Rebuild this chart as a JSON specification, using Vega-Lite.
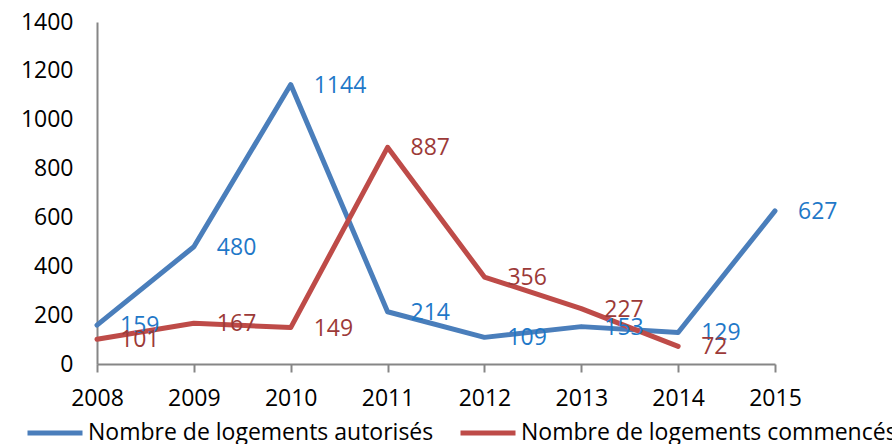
{
  "$schema": "https://vega.github.io/schema/vega-lite/v6.json",
  "width": 678,
  "height": 342,
  "autosize": "none",
  "padding": {"left": 97, "top": 22, "right": 117, "bottom": 80},
  "background": "white",
  "config": {
    "view": {"stroke": null},
    "font": "Open Sans"
  },
  "data": {
    "values": [
      {"year": 2008, "series": "Nombre de logements autorisés", "value": 159},
      {"year": 2009, "series": "Nombre de logements autorisés", "value": 480},
      {"year": 2010, "series": "Nombre de logements autorisés", "value": 1144},
      {"year": 2011, "series": "Nombre de logements autorisés", "value": 214},
      {"year": 2012, "series": "Nombre de logements autorisés", "value": 109},
      {"year": 2013, "series": "Nombre de logements autorisés", "value": 153},
      {"year": 2014, "series": "Nombre de logements autorisés", "value": 129},
      {"year": 2015, "series": "Nombre de logements autorisés", "value": 627},
      {"year": 2008, "series": "Nombre de logements commencés", "value": 101},
      {"year": 2009, "series": "Nombre de logements commencés", "value": 167},
      {"year": 2010, "series": "Nombre de logements commencés", "value": 149},
      {"year": 2011, "series": "Nombre de logements commencés", "value": 887},
      {"year": 2012, "series": "Nombre de logements commencés", "value": 356},
      {"year": 2013, "series": "Nombre de logements commencés", "value": 227},
      {"year": 2014, "series": "Nombre de logements commencés", "value": 72}
    ]
  },
  "encoding": {
    "x": {
      "field": "year", "type": "quantitative",
      "scale": {"domain": [2008, 2015], "nice": false, "zero": false},
      "axis": {
        "title": null, "grid": false, "values": [2008, 2009, 2010, 2011, 2012, 2013, 2014, 2015],
        "format": "d", "domainColor": "#868686", "domainWidth": 2, "tickColor": "#868686", "tickWidth": 2,
        "tickSize": 8, "labelFontSize": 23, "labelColor": "#000000", "labelPadding": 15,
        "labelFont": "Open Sans", "labelFlush": false, "labelOverlap": false
      }
    },
    "y": {
      "field": "value", "type": "quantitative",
      "scale": {"domain": [0, 1400], "nice": false},
      "axis": {
        "title": null, "grid": false, "values": [0, 200, 400, 600, 800, 1000, 1200, 1400], "format": "d",
        "ticks": false, "domainColor": "#868686", "domainWidth": 2, "labelFontSize": 23,
        "labelColor": "#000000", "labelPadding": 24, "labelFont": "Open Sans", "labelFlush": false, "labelOverlap": false
      }
    }
  },
  "layer": [
    {
      "mark": {"type": "line", "strokeWidth": 5, "strokeCap": "round", "strokeJoin": "round"},
      "encoding": {
        "color": {
          "field": "series", "type": "nominal",
          "scale": {"domain": ["Nombre de logements autorisés", "Nombre de logements commencés"], "range": ["#4A7EBB", "#BE4B48"]},
          "legend": {
            "title": null, "orient": "none", "direction": "horizontal", "columns": 2,
            "legendX": -72, "legendY": 381, "symbolType": "stroke", "symbolSize": 3025,
            "symbolStrokeWidth": 5, "labelFontSize": 23, "labelFont": "Open Sans", "labelColor": "#000000",
            "labelOffset": 3, "columnPadding": 16, "labelLimit": 600
          }
        }
      }
    },
    {
      "mark": {"type": "text", "align": "left", "baseline": "middle", "dx": 23, "dy": 1, "fontSize": 23, "font": "Open Sans"},
      "encoding": {
        "text": {"field": "value", "type": "quantitative"},
        "color": {
          "field": "series", "type": "nominal",
          "scale": {"domain": ["Nombre de logements autorisés", "Nombre de logements commencés"], "range": ["#1F78C8", "#9C3A38"]},
          "legend": null
        }
      }
    }
  ],
  "resolve": {"scale": {"color": "independent"}}
}
